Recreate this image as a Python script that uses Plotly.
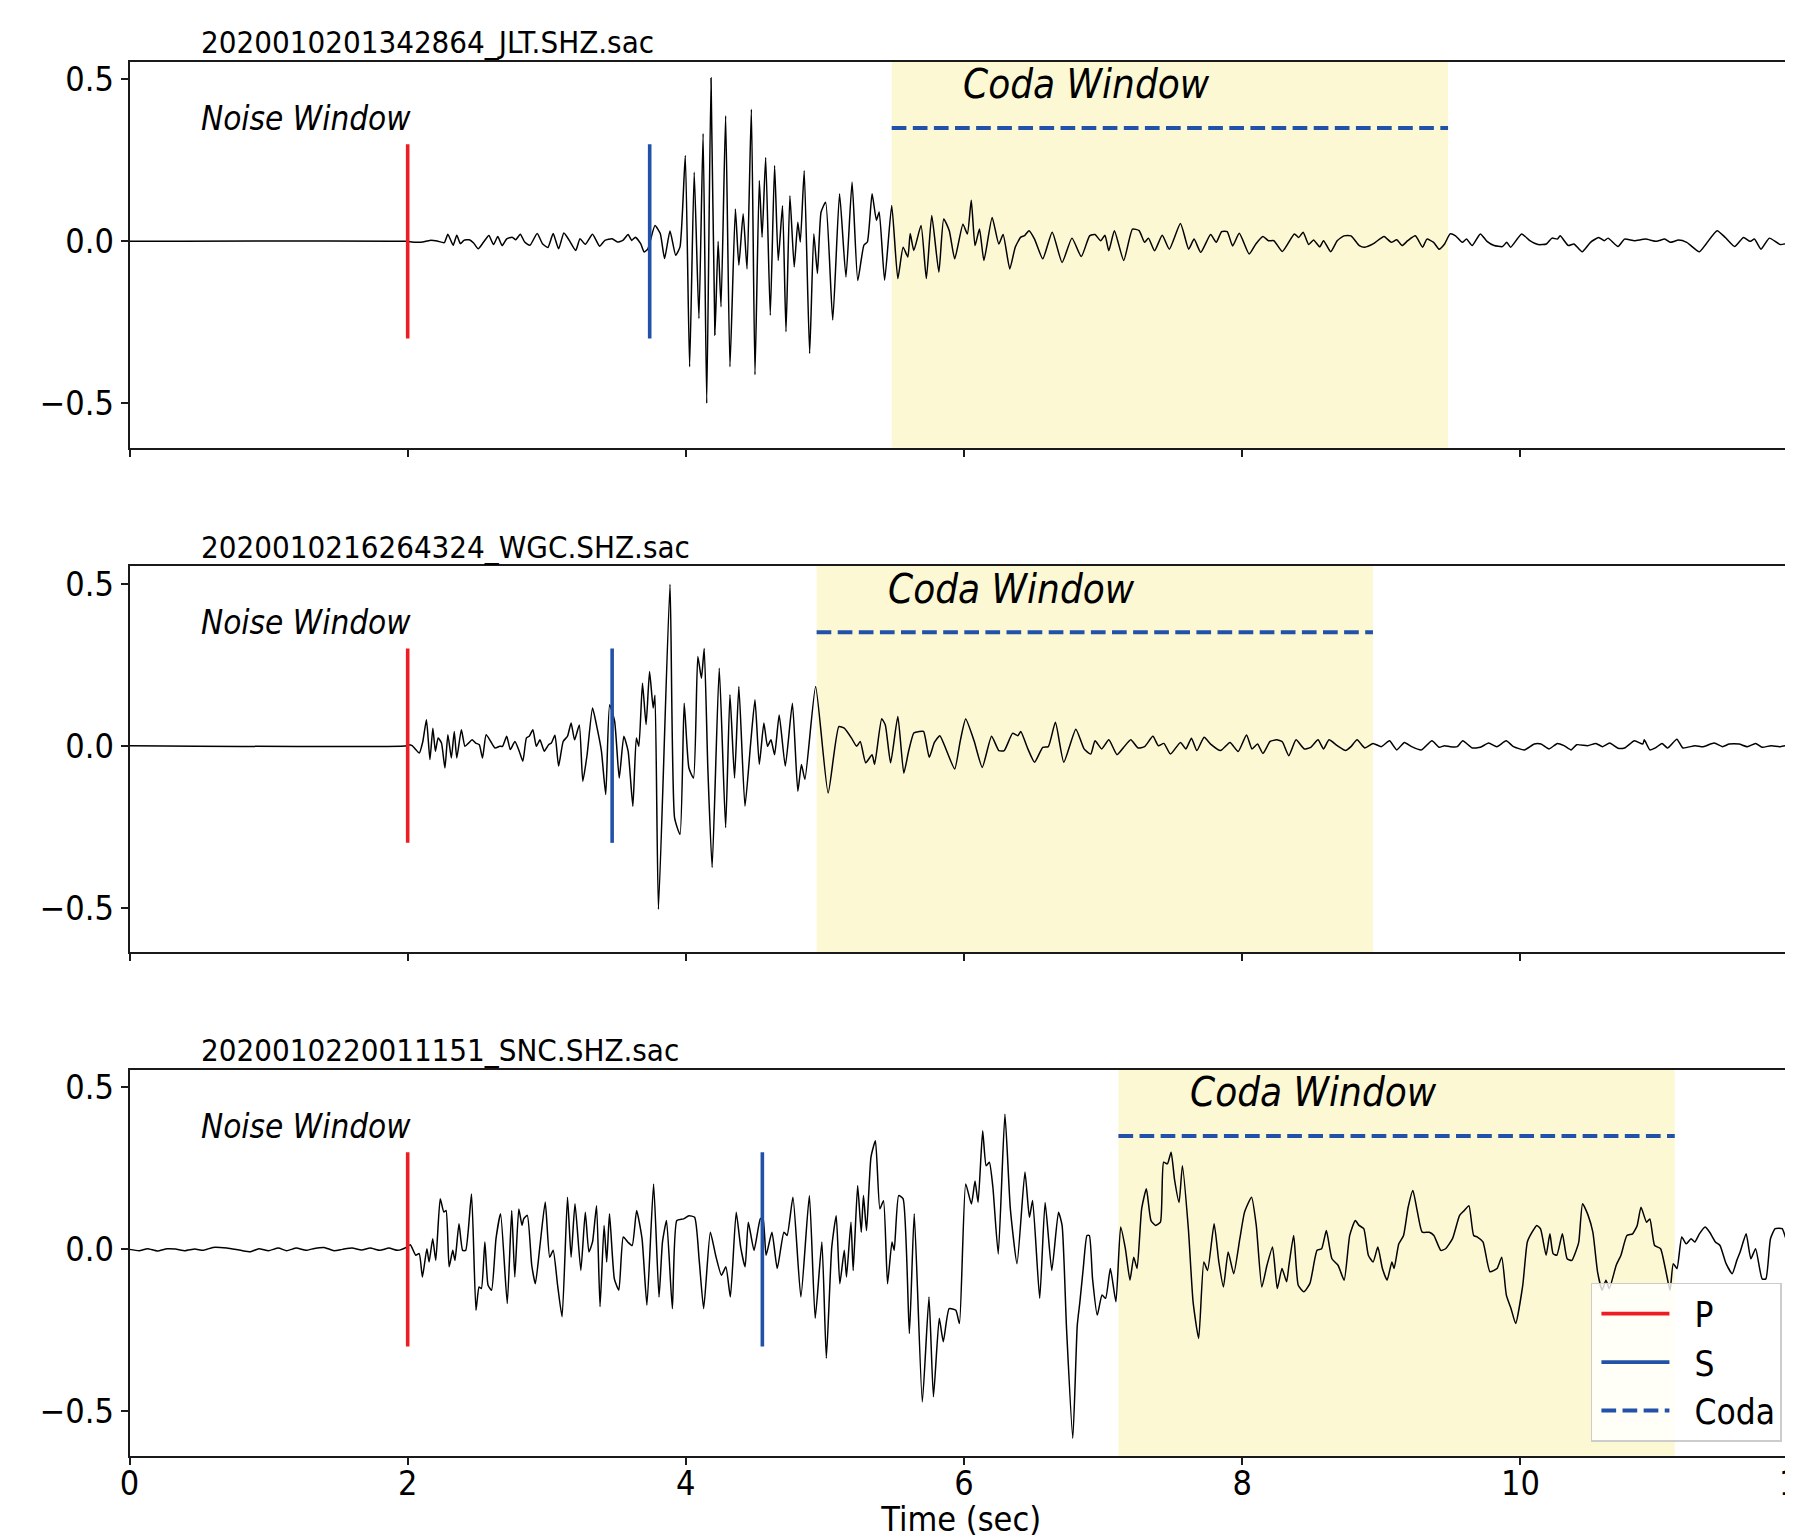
import plotly.graph_objects as go

# ---------------- data ----------------
stations = ["2020010201342864_JLT.SHZ.sac",
            "2020010216264324_WGC.SHZ.sac",
            "2020010220011151_SNC.SHZ.sac"]
p_pick = [2.0, 2.0, 2.0]
s_pick = [3.74, 3.47, 4.55]
coda_start = [5.48, 4.94, 7.11]
coda_end = [9.48, 8.94, 11.11]
pick_half = 0.3          # half-length of the P/S marker lines
coda_level = 0.35        # height of the dashed coda line
noise_label_y = 0.379
coda_label_y = 0.485
label_offset = 0.5       # labels start 0.5 s after the reference time

# (time [s], amplitude) pairs of each trace
jlt = [(0.0, 0.0), (1.99, 0.0), (2.058, -0.003), (2.109, -0.002), (2.160, 0.003), (2.212, 0.001),
       (2.263, -0.004), (2.289, 0.022), (2.327, -0.012), (2.353, 0.019), (2.379, -0.007), (2.404, 0.003),
       (2.443, 0.005), (2.474, -0.005), (2.507, -0.023), (2.546, -0.002), (2.584, 0.018), (2.617, -0.010),
       (2.648, 0.015), (2.679, -0.013), (2.712, 0.008), (2.751, 0.013), (2.777, 0.005), (2.810, 0.022),
       (2.841, -0.002), (2.879, -0.012), (2.931, 0.024), (2.969, -0.007), (3.008, -0.019), (3.046, 0.024),
       (3.085, -0.023), (3.123, 0.026), (3.162, 0.003), (3.208, -0.028), (3.239, 0.008), (3.277, -0.009),
       (3.329, 0.022), (3.380, -0.015), (3.418, 0.003), (3.470, 0.008), (3.508, -0.002), (3.547, 0.003),
       (3.585, 0.021), (3.611, 0.003), (3.637, 0.013), (3.675, -0.007), (3.701, -0.033), (3.727, -0.023),
       (3.778, 0.049), (3.816, 0.024), (3.847, -0.053), (3.886, 0.032), (3.927, -0.043), (3.958, -0.017),
       (3.996, 0.265), (4.027, -0.387), (4.060, 0.213), (4.094, -0.238), (4.124, 0.333), (4.150, -0.500),
       (4.181, 0.504), (4.209, -0.289), (4.232, 0.0), (4.253, -0.202), (4.286, 0.388), (4.317, -0.387),
       (4.356, 0.100), (4.381, -0.074), (4.412, 0.085), (4.440, -0.085), (4.471, 0.408), (4.497, -0.412),
       (4.528, 0.188), (4.548, 0.013), (4.574, 0.259), (4.607, -0.228), (4.638, 0.234), (4.664, -0.059),
       (4.695, 0.110), (4.720, -0.279), (4.748, 0.141), (4.779, -0.079), (4.805, 0.059), (4.823, -0.002),
       (4.851, 0.218), (4.890, -0.346), (4.920, 0.023), (4.946, -0.099), (4.972, 0.090), (5.005, 0.121),
       (5.056, -0.243), (5.105, 0.147), (5.151, -0.110), (5.195, 0.183), (5.236, -0.121), (5.280, -0.012),
       (5.305, -0.002), (5.339, 0.147), (5.370, 0.065), (5.390, 0.091), (5.429, -0.120), (5.480, 0.111),
       (5.524, -0.115), (5.562, -0.018), (5.596, -0.048), (5.613, 0.024), (5.639, -0.028), (5.691, 0.049),
       (5.729, -0.115), (5.768, 0.080), (5.819, -0.095), (5.854, 0.069), (5.894, 0.033), (5.933, -0.054),
       (5.992, 0.053), (6.024, 0.023), (6.052, 0.127), (6.079, -0.013), (6.111, 0.038), (6.143, -0.059),
       (6.202, 0.074), (6.250, -0.008), (6.281, 0.021), (6.329, -0.085), (6.368, -0.018), (6.408, 0.013),
       (6.436, 0.018), (6.467, 0.033), (6.507, 0.007), (6.566, -0.054), (6.634, 0.028), (6.705, -0.065),
       (6.776, 0.010), (6.843, -0.047), (6.903, 0.017), (6.942, 0.021), (6.982, 0.002), (7.013, 0.019),
       (7.041, -0.029), (7.081, 0.033), (7.148, -0.059), (7.211, 0.038), (7.259, 0.033), (7.298, -0.003),
       (7.326, 0.010), (7.370, -0.029), (7.425, 0.019), (7.476, -0.024), (7.556, 0.055), (7.615, -0.024),
       (7.654, 0.007), (7.702, -0.034), (7.773, 0.021), (7.813, -0.003), (7.852, 0.030), (7.892, 0.030),
       (7.931, -0.014), (7.979, 0.025), (8.050, -0.039), (8.098, -0.008), (8.149, 0.015), (8.189, 0.002),
       (8.228, 0.002), (8.288, -0.031), (8.375, 0.023), (8.406, 0.012), (8.438, 0.028), (8.478, -0.010),
       (8.513, 0.004), (8.557, -0.017), (8.585, 0.002), (8.636, -0.032), (8.683, 0.002), (8.731, 0.017),
       (8.782, 0.017), (8.842, -0.013), (8.881, -0.018), (8.941, -0.008), (9.020, 0.015), (9.071, -0.003),
       (9.111, 0.005), (9.150, -0.013), (9.190, 0.002), (9.245, 0.017), (9.297, -0.018), (9.328, 0.007),
       (9.376, -0.003), (9.415, -0.024), (9.455, -0.008), (9.495, 0.023), (9.534, 0.017), (9.582, -0.003),
       (9.613, 0.007), (9.653, -0.013), (9.712, 0.023), (9.760, 0.0), (9.811, -0.013), (9.871, -0.016),
       (9.902, -0.003), (9.930, -0.018), (10.009, 0.023), (10.068, 0.002), (10.128, -0.010), (10.187, -0.008),
       (10.227, 0.010), (10.266, 0.007), (10.286, 0.017), (10.345, -0.013), (10.385, -0.008), (10.444, -0.032),
       (10.504, -0.003), (10.563, 0.012), (10.603, 0.002), (10.630, 0.010), (10.702, -0.016), (10.749, 0.007),
       (10.820, 0.002), (10.899, 0.007), (10.978, 0.0), (11.038, 0.007), (11.077, -0.003), (11.137, 0.004),
       (11.196, -0.003), (11.287, -0.032), (11.335, -0.008), (11.414, 0.033), (11.473, 0.012), (11.541, -0.016),
       (11.604, 0.012), (11.651, 0.0), (11.683, 0.007), (11.730, -0.024), (11.790, 0.010), (11.869, -0.010),
       (11.960, 0.0)]

wgc = [(0.0, 0.0), (1.994, 0.0), (2.006, 0.003), (2.032, 0.0), (2.058, -0.012), (2.083, -0.023),
       (2.109, 0.013), (2.135, 0.080), (2.160, -0.043), (2.181, 0.054), (2.199, -0.017), (2.219, 0.024),
       (2.243, 0.008), (2.268, -0.069), (2.289, 0.034), (2.314, -0.038), (2.335, 0.044), (2.353, -0.038),
       (2.386, 0.049), (2.412, -0.002), (2.438, 0.008), (2.463, 0.018), (2.489, 0.008), (2.515, 0.003),
       (2.538, -0.038), (2.564, 0.034), (2.597, 0.013), (2.628, -0.007), (2.661, -0.002), (2.682, -0.002),
       (2.712, 0.029), (2.738, -0.012), (2.771, 0.013), (2.802, -0.017), (2.828, -0.048), (2.854, 0.024),
       (2.874, 0.029), (2.900, 0.049), (2.925, -0.002), (2.951, 0.018), (2.982, -0.017), (3.013, 0.003),
       (3.033, 0.008), (3.059, 0.032), (3.085, -0.063), (3.118, 0.013), (3.149, 0.029), (3.175, 0.070),
       (3.200, 0.018), (3.234, 0.064), (3.259, -0.110), (3.290, -0.028), (3.329, 0.116), (3.362, 0.054),
       (3.393, -0.017), (3.424, -0.151), (3.452, 0.126), (3.488, 0.075), (3.521, -0.100), (3.554, 0.029),
       (3.585, -0.017), (3.619, -0.187), (3.644, 0.024), (3.662, -0.002), (3.688, 0.193), (3.714, 0.065),
       (3.739, 0.229), (3.765, 0.116), (3.778, 0.156), (3.803, -0.505), (3.886, 0.498), (3.919, -0.223),
       (3.958, -0.274), (3.988, 0.131), (4.022, -0.069), (4.055, -0.100), (4.086, 0.275), (4.112, 0.208),
       (4.132, 0.300), (4.158, -0.069), (4.189, -0.376), (4.240, 0.239), (4.286, -0.253), (4.317, 0.157),
       (4.350, -0.100), (4.381, 0.183), (4.425, -0.187), (4.466, 0.008), (4.497, 0.142), (4.528, -0.058),
       (4.561, 0.070), (4.587, -0.002), (4.612, 0.018), (4.638, -0.028), (4.671, 0.095), (4.715, -0.063),
       (4.766, 0.131), (4.805, -0.141), (4.831, -0.058), (4.856, -0.104), (4.933, 0.183), (5.023, -0.146),
       (5.100, 0.059), (5.139, 0.054), (5.190, 0.024), (5.228, -0.002), (5.254, 0.013), (5.293, -0.053),
       (5.339, -0.028), (5.357, -0.058), (5.408, 0.083), (5.434, 0.064), (5.472, -0.053), (5.524, 0.090),
       (5.567, -0.085), (5.601, -0.018), (5.639, 0.039), (5.678, 0.044), (5.709, 0.044), (5.750, -0.036),
       (5.787, 0.010), (5.826, 0.031), (5.874, -0.015), (5.933, -0.072), (5.973, 0.015), (6.012, 0.082),
       (6.072, 0.015), (6.131, -0.067), (6.198, 0.029), (6.250, -0.015), (6.289, -0.015), (6.349, 0.038),
       (6.388, 0.031), (6.408, 0.044), (6.459, -0.010), (6.507, -0.051), (6.566, -0.005), (6.606, -0.003),
       (6.657, 0.072), (6.717, -0.051), (6.804, 0.051), (6.863, -0.010), (6.911, -0.026), (6.942, 0.015),
       (6.990, -0.010), (7.041, 0.018), (7.100, -0.028), (7.148, -0.005), (7.199, 0.018), (7.251, -0.007),
       (7.298, -0.003), (7.358, 0.029), (7.397, 0.0), (7.437, 0.007), (7.484, -0.026), (7.556, 0.010),
       (7.595, -0.010), (7.635, 0.023), (7.674, -0.015), (7.726, 0.026), (7.773, 0.005), (7.844, -0.015),
       (7.912, 0.010), (7.971, -0.018), (8.031, 0.033), (8.070, -0.010), (8.110, 0.005), (8.149, -0.024),
       (8.201, 0.013), (8.248, 0.018), (8.288, 0.012), (8.335, -0.031), (8.387, 0.018), (8.446, -0.010),
       (8.493, -0.005), (8.545, 0.018), (8.585, -0.010), (8.624, 0.018), (8.683, 0.0), (8.743, -0.015),
       (8.782, -0.003), (8.826, 0.018), (8.881, -0.007), (8.941, 0.007), (9.000, -0.003), (9.059, 0.015),
       (9.111, -0.013), (9.166, 0.010), (9.218, -0.003), (9.289, -0.013), (9.364, 0.015), (9.415, -0.005),
       (9.455, 0.0), (9.495, -0.003), (9.546, -0.003), (9.586, 0.015), (9.653, -0.007), (9.712, -0.005),
       (9.772, 0.008), (9.831, -0.003), (9.898, 0.015), (9.950, -0.003), (10.029, -0.013), (10.100, 0.005),
       (10.148, 0.005), (10.207, -0.010), (10.266, 0.007), (10.314, 0.0), (10.365, -0.013), (10.405, 0.003),
       (10.484, 0.0), (10.543, 0.007), (10.591, -0.003), (10.642, 0.008), (10.702, -0.008), (10.749, -0.007),
       (10.820, 0.015), (10.880, 0.005), (10.891, 0.018), (10.931, -0.013), (10.971, -0.007), (11.018, 0.007),
       (11.058, -0.007), (11.125, 0.020), (11.168, -0.007), (11.255, 0.0), (11.315, -0.003), (11.394, 0.008),
       (11.453, -0.003), (11.501, 0.005), (11.572, 0.005), (11.632, -0.003), (11.691, 0.007), (11.738, -0.005),
       (11.802, 0.0), (11.869, -0.003), (11.960, 0.005)]

snc = [(0.0, 0.0), (0.07, -0.004), (0.13, 0.002), (0.2, -0.005), (0.27, 0.002), (0.33, 0.001),
       (0.4, -0.004), (0.47, 0.001), (0.53, -0.003), (0.6, 0.006), (0.7, 0.004), (0.8, -0.003),
       (0.87, -0.007), (0.93, 0.002), (1.0, -0.004), (1.07, 0.004), (1.13, -0.004), (1.2, 0.004),
       (1.27, -0.003), (1.33, 0.003), (1.4, 0.006), (1.47, -0.004), (1.53, 0.0), (1.6, 0.004),
       (1.67, -0.002), (1.73, 0.004), (1.801, -0.003), (1.865, 0.004), (1.929, -0.003), (1.994, 0.007),
       (2.019, 0.014), (2.058, -0.018), (2.083, -0.013), (2.106, -0.085), (2.138, 0.002), (2.154, -0.039),
       (2.180, 0.033), (2.202, -0.034), (2.234, 0.156), (2.260, 0.115), (2.276, 0.120), (2.298, -0.054),
       (2.324, -0.003), (2.340, -0.034), (2.369, 0.079), (2.395, -0.003), (2.417, -0.003), (2.459, 0.171),
       (2.491, -0.188), (2.513, -0.116), (2.530, -0.121), (2.555, 0.023), (2.578, -0.111), (2.603, -0.126),
       (2.635, 0.033), (2.668, 0.110), (2.716, -0.167), (2.748, 0.120), (2.770, -0.085), (2.799, 0.125),
       (2.822, 0.074), (2.834, 0.094), (2.860, 0.105), (2.892, -0.049), (2.918, -0.106), (2.950, 0.007),
       (2.989, 0.146), (3.021, -0.024), (3.046, -0.003), (3.078, -0.111), (3.110, -0.208), (3.149, 0.161),
       (3.175, -0.024), (3.203, 0.141), (3.245, -0.065), (3.277, 0.115), (3.303, -0.008), (3.329, 0.023),
       (3.358, 0.135), (3.383, -0.177), (3.412, 0.074), (3.431, -0.039), (3.451, 0.110), (3.486, -0.091),
       (3.518, -0.126), (3.550, 0.038), (3.582, 0.023), (3.614, 0.012), (3.646, 0.120), (3.685, 0.033),
       (3.720, -0.172), (3.768, 0.202), (3.807, -0.147), (3.832, 0.023), (3.861, 0.089), (3.903, -0.183),
       (3.935, 0.089), (3.983, 0.094), (4.022, 0.104), (4.063, 0.099), (4.096, -0.034), (4.128, -0.183),
       (4.176, 0.053), (4.214, -0.018), (4.256, -0.080), (4.288, -0.054), (4.320, -0.147), (4.362, 0.115),
       (4.394, 0.007), (4.426, -0.054), (4.449, 0.084), (4.490, -0.003), (4.535, 0.094), (4.554, 0.099),
       (4.577, -0.018), (4.619, 0.053), (4.657, -0.059), (4.705, 0.053), (4.728, 0.043), (4.770, 0.161),
       (4.827, -0.147), (4.888, 0.166), (4.930, -0.213), (4.978, 0.023), (5.010, -0.336), (5.049, 0.007),
       (5.081, 0.104), (5.107, -0.106), (5.139, -0.003), (5.155, -0.085), (5.187, 0.084), (5.203, -0.065),
       (5.235, 0.197), (5.261, 0.053), (5.277, 0.166), (5.299, 0.058), (5.331, 0.285), (5.363, 0.335),
       (5.395, 0.125), (5.421, 0.150), (5.450, -0.106), (5.482, 0.023), (5.498, -0.003), (5.530, 0.166),
       (5.562, 0.156), (5.607, -0.260), (5.642, 0.110), (5.700, -0.471), (5.748, -0.147), (5.780, -0.455),
       (5.822, -0.213), (5.851, -0.285), (5.893, -0.183), (5.941, -0.188), (5.967, -0.229), (6.012, 0.202),
       (6.053, 0.140), (6.079, 0.211), (6.101, 0.145), (6.134, 0.366), (6.159, 0.258), (6.182, 0.269),
       (6.207, 0.194), (6.246, -0.014), (6.294, 0.417), (6.333, 0.125), (6.381, -0.044), (6.438, 0.239),
       (6.470, 0.099), (6.493, 0.151), (6.544, -0.151), (6.583, 0.145), (6.631, -0.065), (6.679, 0.115),
       (6.705, 0.074), (6.737, -0.244), (6.782, -0.583), (6.814, -0.235), (6.833, -0.162), (6.857, -0.059),
       (6.884, 0.043), (6.901, 0.043), (6.924, -0.091), (6.958, -0.203), (6.992, -0.141), (7.018, -0.151),
       (7.052, -0.059), (7.092, -0.162), (7.126, 0.069), (7.160, 0.002), (7.193, -0.095), (7.220, -0.024),
       (7.244, -0.059), (7.277, 0.125), (7.311, 0.187), (7.344, 0.089), (7.378, 0.074), (7.412, 0.084),
       (7.435, 0.269), (7.462, 0.264), (7.489, 0.300), (7.513, 0.217), (7.546, 0.145), (7.570, 0.258),
       (7.613, 0.063), (7.647, -0.163), (7.687, -0.275), (7.724, -0.039), (7.751, -0.065), (7.798, 0.079),
       (7.832, -0.039), (7.865, -0.116), (7.899, -0.008), (7.939, -0.075), (7.983, 0.033), (8.017, 0.115),
       (8.067, 0.161), (8.101, 0.074), (8.141, -0.116), (8.178, -0.049), (8.218, 0.007), (8.252, -0.121),
       (8.286, -0.059), (8.319, -0.100), (8.336, -0.049), (8.370, 0.043), (8.403, -0.111), (8.443, -0.131),
       (8.487, -0.105), (8.538, -0.003), (8.571, 0.002), (8.605, 0.058), (8.645, -0.029), (8.689, -0.049),
       (8.733, -0.095), (8.773, 0.043), (8.813, 0.089), (8.840, 0.074), (8.874, 0.064), (8.907, -0.018),
       (8.941, -0.039), (8.975, 0.007), (9.008, -0.059), (9.042, -0.095), (9.076, -0.039), (9.092, -0.059),
       (9.126, 0.017), (9.160, 0.043), (9.193, 0.130), (9.227, 0.182), (9.260, 0.115), (9.294, 0.053),
       (9.345, 0.053), (9.378, 0.043), (9.428, -0.003), (9.462, 0.002), (9.512, 0.033), (9.563, 0.105),
       (9.597, 0.120), (9.630, 0.135), (9.664, 0.043), (9.691, 0.038), (9.731, 0.023), (9.781, -0.069),
       (9.832, -0.059), (9.866, -0.024), (9.899, -0.141), (9.933, -0.183), (9.966, -0.229), (10.017, -0.111),
       (10.050, 0.023), (10.084, 0.053), (10.118, 0.074), (10.145, 0.063), (10.185, -0.018), (10.212, 0.048),
       (10.235, -0.013), (10.262, -0.018), (10.302, 0.048), (10.336, -0.029), (10.370, -0.034), (10.397, -0.008),
       (10.420, 0.023), (10.447, 0.141), (10.487, 0.105), (10.521, 0.053), (10.555, -0.070), (10.588, -0.126),
       (10.615, -0.095), (10.639, -0.121), (10.689, -0.049), (10.723, -0.018), (10.766, 0.043), (10.807, 0.048),
       (10.840, 0.074), (10.867, 0.130), (10.907, 0.084), (10.931, 0.094), (10.965, 0.012), (11.008, 0.002),
       (11.042, -0.059), (11.076, -0.126), (11.099, -0.044), (11.126, -0.059), (11.160, 0.038), (11.193, 0.017),
       (11.227, 0.033), (11.254, 0.023), (11.287, 0.048), (11.328, 0.069), (11.361, 0.053), (11.402, 0.023),
       (11.435, 0.012), (11.479, -0.044), (11.523, -0.075), (11.556, -0.034), (11.580, -0.008), (11.623, 0.048),
       (11.657, -0.029), (11.691, 0.002), (11.738, -0.091), (11.765, -0.091), (11.798, 0.033), (11.832, 0.064),
       (11.882, 0.064), (11.916, 0.023), (11.960, -0.018)]

traces = [jlt, wgc, snc]

x_ticks = [0, 2, 4, 6, 8, 10]
y_ticks = [-0.5, 0.0, 0.5]
y_ticktext = ["\u22120.5", "0.0", "0.5"]
x_range = [0, 11.96]
y_range = [-0.637, 0.555]

# ---------------- styling ----------------
FONT = "DejaVu Sans Condensed, DejaVu Sans"
RED = "#ee1d23"
BLUE = "#2151a8"
YELLOW = "rgb(252,248,212)"
AXIS = "#1a1a1a"
PAGE_OFFSET = 8                     # default body margin of the html page
W, H = 1793 - PAGE_OFFSET, 1539 - PAGE_OFFSET
x_domain = [(129.5 - PAGE_OFFSET) / W, 1.0]
y_domains = [[0.7128, 0.9650], [0.3834, 0.6356], [0.0544, 0.3066]]
NBSP = "\u00a0"

fig = go.Figure()
annotations = []
shapes = []

for i, pts in enumerate(traces):
    xa = "x" if i == 0 else f"x{i+1}"
    ya = "y" if i == 0 else f"y{i+1}"
    last = i == 2
    t = [p[0] for p in pts]
    v = [p[1] for p in pts]
    fig.add_trace(go.Scatter(x=t, y=v, mode="lines", xaxis=xa, yaxis=ya,
                             line=dict(color="black", width=1.5, shape="spline", smoothing=0.5),
                             showlegend=False, hoverinfo="skip"))
    fig.add_trace(go.Scatter(x=[p_pick[i], p_pick[i]], y=[-pick_half, pick_half], mode="lines",
                             xaxis=xa, yaxis=ya, line=dict(color=RED, width=3.6),
                             name=NBSP * 2 + "P", legendgroup="p", showlegend=last, legendrank=1))
    fig.add_trace(go.Scatter(x=[s_pick[i], s_pick[i]], y=[-pick_half, pick_half], mode="lines",
                             xaxis=xa, yaxis=ya, line=dict(color=BLUE, width=3.6),
                             name=NBSP * 2 + "S", legendgroup="s", showlegend=last, legendrank=2))
    fig.add_trace(go.Scatter(x=[coda_start[i], coda_end[i]], y=[coda_level, coda_level], mode="lines",
                             xaxis=xa, yaxis=ya, line=dict(color=BLUE, width=4, dash="14.7px,6.4px"),
                             name=NBSP * 2 + "Coda", legendgroup="c", showlegend=last, legendrank=3))
    shapes.append(dict(type="rect", xref=xa, yref=f"{ya} domain", x0=coda_start[i], x1=coda_end[i],
                       y0=0, y1=1, fillcolor=YELLOW, line=dict(width=0), layer="below"))
    annotations.append(dict(xref=xa, yref="paper", x=label_offset, y=y_domains[i][1] + 0.0125,
                            text=stations[i], showarrow=False, xanchor="left", yanchor="middle",
                            font=dict(family=FONT, size=31, color="black")))
    annotations.append(dict(xref=xa, yref=ya, x=label_offset, y=noise_label_y, text="Noise Window",
                            showarrow=False, xanchor="left", yanchor="middle",
                            font=dict(family=FONT, size=33, color="black", style="italic")))
    annotations.append(dict(xref=xa, yref=ya, x=coda_start[i] + label_offset, y=coda_label_y,
                            text="Coda Window", showarrow=False, xanchor="left", yanchor="middle",
                            font=dict(family=FONT, size=40, color="black", style="italic")))

# partially visible "12" tick label at the clipped right edge
annotations.append(dict(xref="paper", yref="paper", x=1.0031, y=0.0366, text="12",
                        showarrow=False, xanchor="center", yanchor="middle",
                        font=dict(family=FONT, size=34, color="black")))

layout = dict(width=W, height=H, margin=dict(l=0, r=0, t=0, b=0), paper_bgcolor="white",
              plot_bgcolor="white", font=dict(family=FONT, size=34, color="black"),
              shapes=shapes, annotations=annotations,
              legend=dict(x=0.9938, xanchor="right", y=0.1673, yanchor="top",
                          bgcolor="rgba(255,255,255,0.8)", bordercolor="#cccccc", borderwidth=1.5,
                          font=dict(family=FONT, size=35, color="black"), itemwidth=68,
                          tracegroupgap=0, indentation=4))

for i in range(3):
    xk = "xaxis" if i == 0 else f"xaxis{i+1}"
    yk = "yaxis" if i == 0 else f"yaxis{i+1}"
    ya = "y" if i == 0 else f"y{i+1}"
    xa = "x" if i == 0 else f"x{i+1}"
    layout[xk] = dict(domain=x_domain, range=x_range, anchor=ya, showline=True, linecolor=AXIS,
                      linewidth=1.6, mirror=True, ticks="outside", ticklen=7, tickwidth=1.5,
                      tickcolor=AXIS, tickvals=x_ticks, showticklabels=(i == 2), showgrid=False,
                      zeroline=False, automargin=False, ticklabelstandoff=-10,
                      tickfont=dict(family=FONT, size=34, color="black"))
    layout[yk] = dict(domain=y_domains[i], range=y_range, anchor=xa, showline=True, linecolor=AXIS,
                      linewidth=1.6, mirror=False, ticks="outside", ticklen=7, tickwidth=1.5,
                      tickcolor=AXIS, tickvals=y_ticks, ticktext=y_ticktext, showgrid=False,
                      zeroline=False, automargin=False,
                      tickfont=dict(family=FONT, size=34, color="black"))

layout["xaxis3"]["title"] = dict(text="Time (sec)", font=dict(family=FONT, size=34, color="black"),
                                 standoff=16)
fig.update_layout(**layout)
fig.write_html("out.html")
